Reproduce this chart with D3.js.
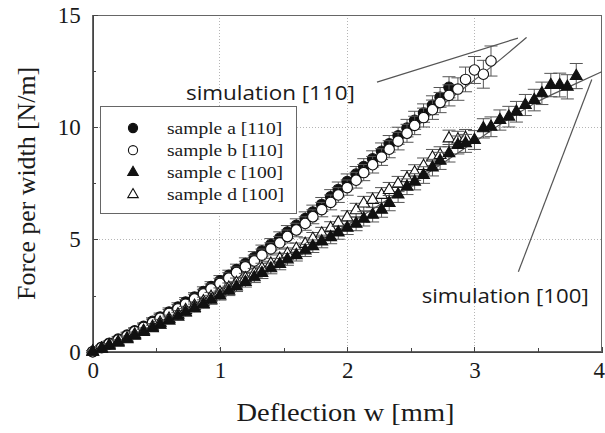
<!DOCTYPE html>
<meta charset="utf-8">
<style>

body {
  margin: 0;
  background: #fff;
}

svg {
  display: block;
}

.axis path,
.axis line {
  fill: none;
  stroke: #444;
  shape-rendering: crispEdges;
}

.grid line {
  stroke: #b5b5b5;
  stroke-dasharray: 1,2;
  shape-rendering: crispEdges;
}

.err {
  stroke: #555;
  stroke-width: 1;
  fill: none;
}

.sim {
  stroke: #555;
  stroke-width: 1.2;
  fill: none;
}

</style>
<body>
<svg width="605" height="433"></svg>

<script src="https://d3js.org/d3.v7.min.js"></script>
<script>

// deflection steps (mm) shared by all four samples
var deflection = [0.00,0.07,0.13,0.20,0.27,0.33,0.40,0.47,0.53,0.60,
                  0.67,0.73,0.80,0.87,0.93,1.00,1.07,1.13,1.20,1.27,
                  1.33,1.40,1.47,1.53,1.60,1.67,1.73,1.80,1.87,1.93,
                  2.00,2.07,2.13,2.20,2.27,2.33,2.40,2.47,2.53,2.60,
                  2.67,2.73,2.80,2.87,2.93,3.00,3.07,3.13,3.20,3.27,
                  3.33,3.40,3.47,3.53,3.60,3.67,3.73,3.80];

// force per width (N/m) and error half-heights
var sampleA = [0.00,0.20,0.38,0.56,0.74,0.93,1.13,1.35,1.55,1.77,
               1.99,2.21,2.43,2.68,2.90,3.16,3.40,3.66,3.93,4.20,
               4.49,4.77,5.06,5.33,5.63,5.93,6.22,6.56,6.90,7.23,
               7.58,7.91,8.25,8.59,8.93,9.26,9.62,9.96,10.31,10.63,
               10.98,11.33,11.78];
var errA    = [0.05,0.08,0.10,0.12,0.13,0.14,0.15,0.16,0.17,0.18,
               0.19,0.20,0.20,0.21,0.22,0.23,0.23,0.24,0.25,0.26,
               0.26,0.27,0.28,0.29,0.29,0.30,0.31,0.31,0.32,0.33,
               0.34,0.34,0.35,0.36,0.37,0.37,0.38,0.39,0.40,0.41,
               0.42,0.44,0.47];

var sampleB = [0.00,0.18,0.35,0.52,0.70,0.89,1.08,1.29,1.49,1.70,
               1.91,2.12,2.35,2.57,2.80,3.04,3.28,3.53,3.78,4.04,
               4.30,4.58,4.85,5.13,5.42,5.71,6.01,6.33,6.65,6.98,
               7.31,7.64,7.98,8.33,8.67,9.02,9.38,9.73,10.08,10.43,
               10.78,11.10,11.42,11.70,12.13,12.55,12.36,12.95];
var errB    = [0.05,0.08,0.10,0.12,0.13,0.14,0.15,0.16,0.17,0.18,
               0.19,0.20,0.21,0.21,0.22,0.23,0.24,0.24,0.25,0.26,
               0.27,0.27,0.28,0.29,0.30,0.30,0.31,0.32,0.33,0.33,
               0.34,0.35,0.36,0.37,0.37,0.38,0.39,0.40,0.41,0.42,
               0.43,0.45,0.47,0.50,0.55,0.60,0.62,0.67];

var sampleC = [0.00,0.13,0.26,0.40,0.55,0.71,0.87,1.04,1.20,1.39,
               1.57,1.75,1.94,2.12,2.31,2.50,2.71,2.90,3.10,3.31,
               3.50,3.71,3.90,4.11,4.30,4.51,4.70,4.91,5.10,5.31,
               5.52,5.70,5.92,6.10,6.32,6.62,7.00,7.35,7.57,7.87,
               8.20,8.50,8.84,9.21,9.28,9.43,9.95,10.02,10.32,10.47,
               10.69,10.99,11.21,11.51,11.88,11.88,11.80,12.28];
var errC    = [0.04,0.06,0.08,0.10,0.11,0.12,0.13,0.14,0.15,0.16,
               0.17,0.17,0.18,0.19,0.20,0.20,0.21,0.22,0.22,0.23,
               0.24,0.24,0.25,0.26,0.26,0.27,0.28,0.28,0.29,0.30,
               0.30,0.31,0.32,0.32,0.33,0.34,0.35,0.35,0.36,0.37,
               0.37,0.38,0.39,0.40,0.40,0.42,0.43,0.44,0.45,0.46,
               0.46,0.47,0.48,0.50,0.52,0.53,0.54,0.56];

var sampleD = [0.00,0.14,0.28,0.43,0.59,0.76,0.93,1.11,1.29,1.47,
               1.66,1.85,2.04,2.24,2.44,2.64,2.85,3.06,3.27,3.48,
               3.70,3.92,4.14,4.36,4.58,4.80,5.03,5.26,5.50,5.74,
               5.98,6.30,6.60,6.76,6.98,7.20,7.47,7.72,7.98,8.27,
               8.65,8.76,9.50,9.45,9.52];
var errD    = [0.04,0.06,0.08,0.10,0.11,0.12,0.13,0.14,0.15,0.16,
               0.17,0.17,0.18,0.19,0.20,0.20,0.21,0.22,0.22,0.23,
               0.24,0.24,0.25,0.26,0.26,0.27,0.28,0.28,0.29,0.30,
               0.30,0.31,0.32,0.32,0.33,0.34,0.34,0.35,0.35,0.36,
               0.36,0.37,0.37,0.37,0.38];

// simulation curves
var sim110X = [0, 0.25, 0.5, 0.75, 1, 1.25, 1.5, 1.75, 2, 2.25, 2.5, 2.75, 3, 3.2, 3.41];
var sim110Y = [0, 0.70, 1.5, 2.30, 3.15, 4.1, 5.1, 6.2, 7.35, 8.55, 9.8, 11.0, 12.1, 13.0, 14.0];
var sim100X = [0, 0.5, 1, 1.5, 2, 2.5, 2.75, 3, 3.25, 3.5, 3.75, 4];
var sim100Y = [0, 1.15, 2.55, 4.05, 5.65, 7.45, 8.4, 9.35, 10.3, 11.15, 11.82, 12.47];

var legendLabels = ["sample a [110]", "sample b [110]", "sample c [100]", "sample d [100]"];
var xTicks = [0, 1, 2, 3, 4],
    xMinor = [0.5, 1.5, 2.5, 3.5],
    yTicks = [0, 5, 10, 15],
    yMinor = [2.5, 7.5, 12.5];

var SERIF = "'Liberation Serif'",
    SANS = "'Open Sans'",
    INK = "#1a1a1a";

var svg = d3.select("svg"),
    margin = {top: 15, right: 3.3, bottom: 81.3, left: 92.7},
    W = +svg.attr("width"),
    H = +svg.attr("height");

var x = d3.scaleLinear().domain([0, 4]).range([margin.left, W - margin.right]);
var y = d3.scaleLinear().domain([0, 15]).range([H - margin.bottom, margin.top]);

var series = [
  {values: sampleA, err: errA, shape: d3.symbolCircle, size: 86, fill: "#111"},
  {values: sampleB, err: errB, shape: d3.symbolCircle, size: 86, fill: "#fff"},
  {values: sampleD, err: errD, shape: d3.symbolTriangle, size: 60, fill: "#fff"},
  {values: sampleC, err: errC, shape: d3.symbolTriangle, size: 60, fill: "#111"}
];
series.forEach(function(s) {
  s.points = s.values.map(function(v, i) { return {x: deflection[i], y: v, e: s.err[i]}; });
});

function font(sel, family, size) {
  sel.style("font-family", family).style("font-size", size + "px").style("fill", INK);
}

// grid
var grid = svg.append("g").attr("class", "grid");
grid.selectAll(".vx").data([1, 2, 3]).enter().append("line")
    .attr("x1", function(d) { return x(d); })
    .attr("x2", function(d) { return x(d); })
    .attr("y1", y(0)).attr("y2", y(15));
grid.selectAll(".hy").data([5, 10]).enter().append("line")
    .attr("x1", x(0)).attr("x2", x(4))
    .attr("y1", function(d) { return y(d); })
    .attr("y2", function(d) { return y(d); });

// frame
svg.append("rect")
    .attr("x", x(0)).attr("y", y(15))
    .attr("width", x(4) - x(0)).attr("height", y(0) - y(15))
    .attr("fill", "none").attr("stroke", "#666").attr("stroke-width", 1)
    .attr("shape-rendering", "crispEdges");

// axes
var xAxis = svg.append("g").attr("class", "axis")
    .attr("transform", "translate(0," + y(0) + ")")
    .call(d3.axisBottom(x).tickValues(xTicks).tickFormat(d3.format("d")).tickSize(-5).tickPadding(10));
font(xAxis.selectAll("text"), SERIF, 23);
// last label sits on the page edge, pull it in a little
xAxis.selectAll(".tick text").filter(function(d) { return d === 4; }).attr("dx", -3);
svg.append("g").attr("class", "axis")
    .attr("transform", "translate(0," + y(0) + ")")
    .call(d3.axisBottom(x).tickValues(xMinor).tickFormat("").tickSize(-3.5))
    .select(".domain").remove();
var yAxis = svg.append("g").attr("class", "axis")
    .attr("transform", "translate(" + x(0) + ",0)")
    .call(d3.axisLeft(y).tickValues(yTicks).tickFormat(d3.format("d")).tickSize(-5.5).tickPadding(12));
font(yAxis.selectAll("text"), SERIF, 23);
svg.append("g").attr("class", "axis")
    .attr("transform", "translate(" + x(0) + ",0)")
    .call(d3.axisLeft(y).tickValues(yMinor).tickFormat("").tickSize(-3.5))
    .select(".domain").remove();

// axis titles
svg.append("text")
    .attr("x", 345.5).attr("y", 421)
    .attr("text-anchor", "middle")
    .attr("textLength", 218).attr("lengthAdjust", "spacingAndGlyphs")
    .call(font, SERIF, 25)
    .text("Deflection w [mm]");
svg.append("text")
    .attr("transform", "translate(34.5,183.4) rotate(-90)")
    .attr("text-anchor", "middle")
    .attr("textLength", 233).attr("lengthAdjust", "spacingAndGlyphs")
    .call(font, SERIF, 25)
    .text("Force per width [N/m]");

// simulation curves
var line = d3.line()
    .x(function(d) { return x(d[0]); })
    .y(function(d) { return y(d[1]); })
    .curve(d3.curveMonotoneX);
svg.append("path").attr("class", "sim").attr("d", line(d3.zip(sim110X, sim110Y)));
svg.append("path").attr("class", "sim").attr("d", line(d3.zip(sim100X, sim100Y)));

// data: error bars then markers
series.forEach(function(s) {
  var g = svg.append("g");
  var eb = g.selectAll(".eb").data(s.points).enter().append("g").attr("class", "err");
  eb.append("line")
      .attr("x1", function(d) { return x(d.x); })
      .attr("x2", function(d) { return x(d.x); })
      .attr("y1", function(d) { return y(d.y - d.e); })
      .attr("y2", function(d) { return y(d.y + d.e); });
  eb.append("line")
      .attr("x1", function(d) { return x(d.x) - 6.5; })
      .attr("x2", function(d) { return x(d.x) + 6.5; })
      .attr("y1", function(d) { return y(d.y + d.e); })
      .attr("y2", function(d) { return y(d.y + d.e); });
  eb.append("line")
      .attr("x1", function(d) { return x(d.x) - 6.5; })
      .attr("x2", function(d) { return x(d.x) + 6.5; })
      .attr("y1", function(d) { return y(d.y - d.e); })
      .attr("y2", function(d) { return y(d.y - d.e); });
  g.selectAll(".pt").data(s.points).enter().append("path")
      .attr("transform", function(d) { return "translate(" + x(d.x) + "," + y(d.y) + ")"; })
      .attr("d", d3.symbol().type(s.shape).size(s.size))
      .attr("fill", s.fill)
      .attr("stroke", "#111")
      .attr("stroke-width", 1.1);
});

// annotations
svg.append("line").attr("class", "sim")
    .attr("x1", x(2.234)).attr("y1", y(12.01))
    .attr("x2", x(3.342)).attr("y2", y(13.97));
svg.append("line").attr("class", "sim")
    .attr("x1", x(3.922)).attr("y1", y(12.13))
    .attr("x2", x(3.345)).attr("y2", y(3.56));
svg.append("text")
    .attr("x", x(0.733)).attr("y", y(11.21))
    .attr("textLength", 169).attr("lengthAdjust", "spacingAndGlyphs")
    .call(font, SANS, 20)
    .text("simulation [110]");
svg.append("text")
    .attr("x", x(2.585)).attr("y", y(2.156))
    .attr("textLength", 167).attr("lengthAdjust", "spacingAndGlyphs")
    .call(font, SANS, 20)
    .text("simulation [100]");

// legend
var legend = svg.append("g");
legend.append("rect")
    .attr("x", 100.7).attr("y", 106.7)
    .attr("width", 196).attr("height", 106.6)
    .attr("fill", "#fff").attr("stroke", "#666")
    .attr("shape-rendering", "crispEdges");

var order = [series[0], series[1], series[3], series[2]];
var rows = legend.selectAll(".row").data(legendLabels).enter().append("g")
    .attr("transform", function(d, i) { return "translate(133," + (128 + i * 22.2) + ")"; });
rows.append("path")
    .attr("d", function(d, i) { return d3.symbol().type(order[i].shape).size(order[i].shape === d3.symbolCircle ? 66 : 48)(); })
    .attr("fill", function(d, i) { return order[i].fill; })
    .attr("stroke", "#111")
    .attr("stroke-width", 1.1);
var labels = rows.append("text")
    .attr("x", 34).attr("y", 5.5)
    .call(font, SERIF, 17)
    .text(function(d) { return d; });
var k = 116 / labels.nodes()[2].getComputedTextLength();
labels.each(function() {
  d3.select(this).attr("textLength", this.getComputedTextLength() * k).attr("lengthAdjust", "spacingAndGlyphs");
});

</script>
</body>
